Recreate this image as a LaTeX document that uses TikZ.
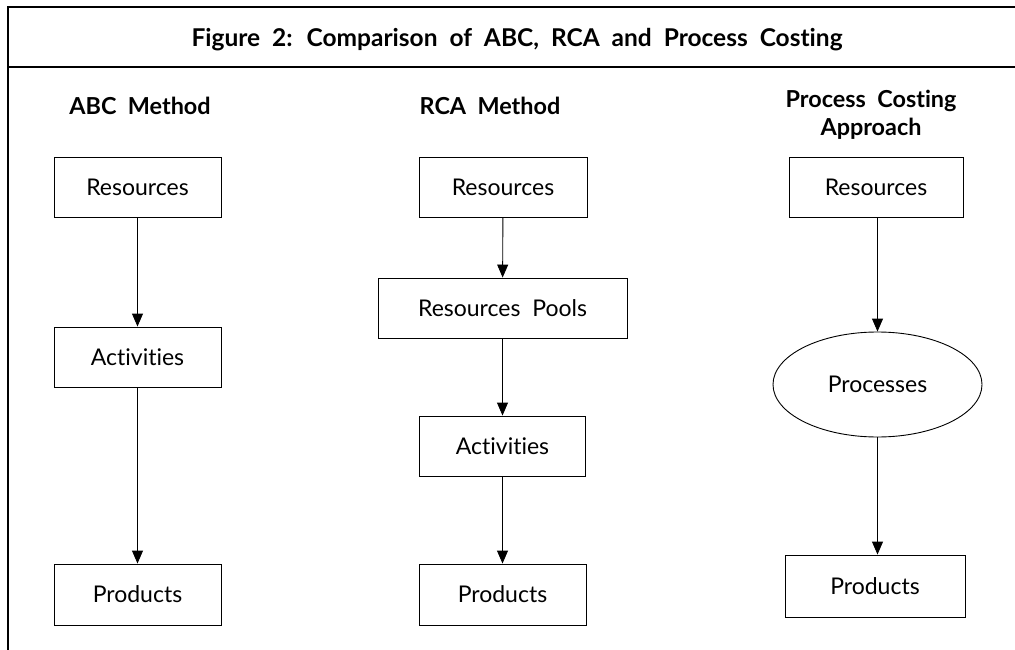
\documentclass[tikz,border=0pt]{standalone}
\usepackage{fontspec}
\setmainfont{Lato}[WordSpace=2, Ligatures=NoCommon]
\usetikzlibrary{arrows.meta,shapes.geometric}

\begin{document}
\begin{tikzpicture}[x=1pt,y=-1pt,
  box/.style={draw, line width=0.9pt, inner sep=0pt, minimum height=60pt,
    font=\fontsize{23}{27}\selectfont},
  oval/.style={ellipse, draw, line width=0.9pt, inner sep=0pt,
    font=\fontsize{23}{27}\selectfont},
  flow/.style={-{Triangle[length=13pt,width=11pt]}, line width=0.9pt},
  head/.style={font=\bfseries\fontsize{23.4}{28}\selectfont, inner sep=0pt, align=center},
  frame/.style={line width=1.3pt}]
\useasboundingbox (0,0) rectangle (1015,650);

% outer frame and title bar
\draw[frame] (8,650) -- (8,7) -- (1015,7);
\draw[frame] (8,67) -- (1015,67);
\node[head, font=\bfseries\fontsize{24.5}{28}\selectfont, anchor=base] (title) at (517,47)
  {Figure 2: Comparison of ABC, RCA and Process Costing};

% column headings
\node[head, anchor=base] (abcHead) at (140,115) {ABC Method};
\node[head, anchor=base] (rcaHead) at (490,115) {RCA Method};
\node[head, anchor=north] (pcHead) at (871,90) {Process Costing\\Approach};

% ABC method
\node[box, minimum width=167pt] (abcRes) at (137.5,187.5) {Resources};
\node[box, minimum width=167pt] (abcAct) at (137.5,357) {Activities};
\node[box, minimum width=167pt, minimum height=61pt] (abcProd) at (137.5,594.5) {Products};
\draw[flow] (abcRes) -- (abcAct);
\draw[flow] (abcAct) -- (abcProd);

% RCA method
\node[box, minimum width=168pt] (rcaRes) at (503,187.5) {Resources};
\node[box, minimum width=249pt] (rcaPool) at (502.5,308) {Resources Pools};
\node[box, minimum width=166pt] (rcaAct) at (502.5,446) {Activities};
\node[box, minimum width=167pt, minimum height=61pt] (rcaProd) at (502.5,594.5) {Products};
\draw[flow] (rcaRes) -- (rcaPool);
\draw[flow] (rcaPool) -- (rcaAct);
\draw[flow] (rcaAct) -- (rcaProd);

% process costing approach
\node[box, minimum width=174pt] (pcRes) at (876,187.5) {Resources};
\node[oval, minimum width=209pt, minimum height=105pt] (pcProc) at (877.5,384.5) {Processes};
\node[box, minimum width=180pt, minimum height=62pt] (pcProd) at (875,586) {Products};
\draw[flow] (pcRes.south -| pcProc) -- (pcProc);
\draw[flow] (pcProc) -- (pcProd.north -| pcProc);
\end{tikzpicture}
\end{document}
